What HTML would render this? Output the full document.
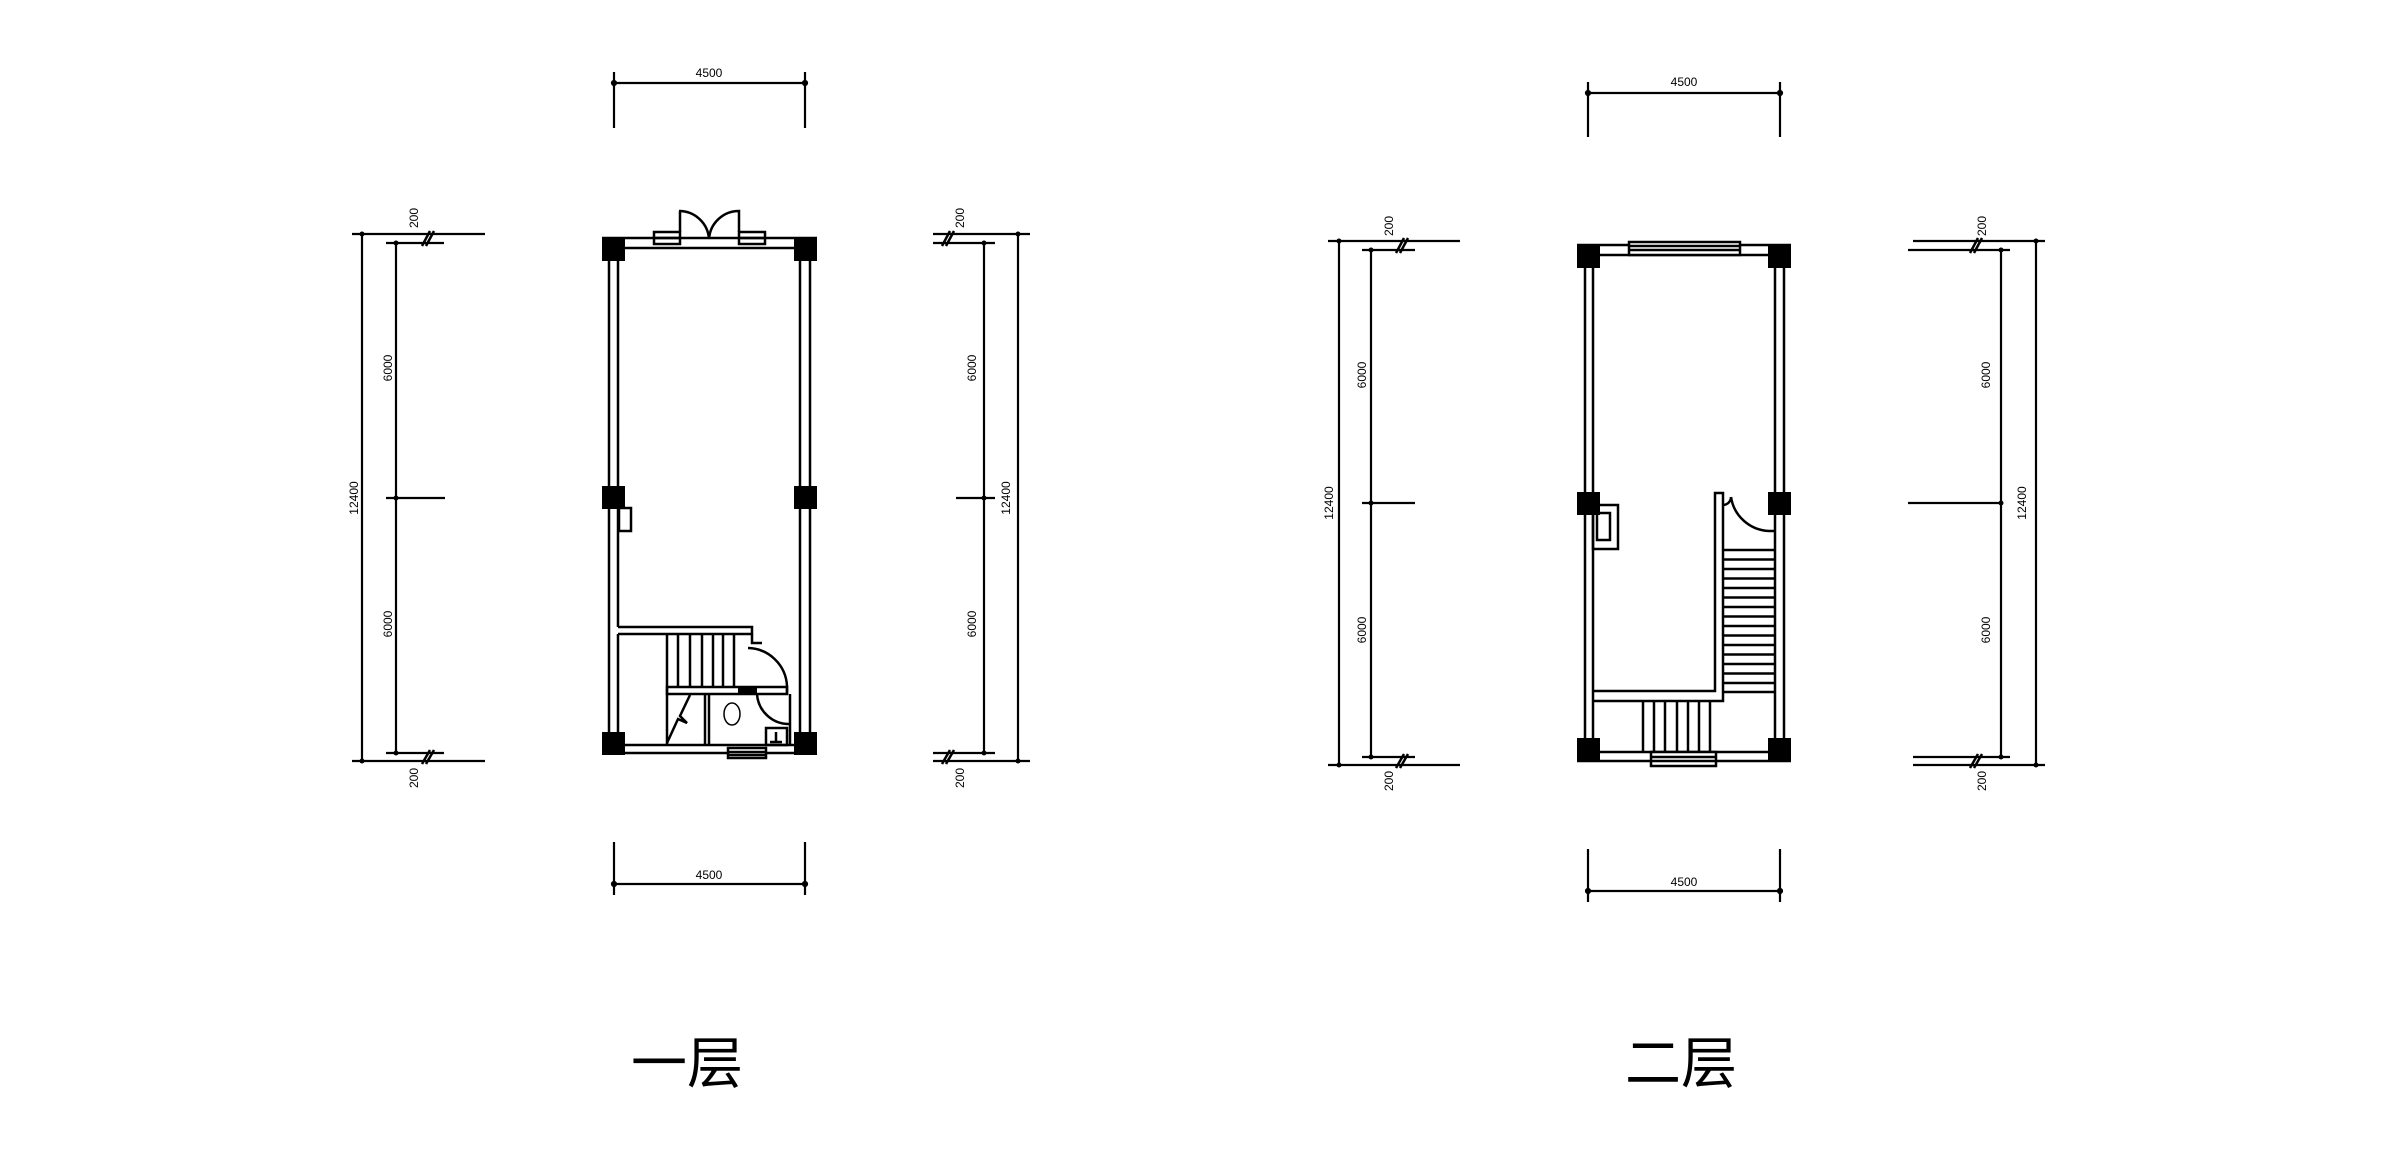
<!DOCTYPE html>
<html><head><meta charset="utf-8"><style>
html,body{margin:0;padding:0;background:#fff;}
svg{display:block;}
text{font-family:"Liberation Sans","Noto Sans CJK SC",sans-serif;fill:#000;}
.t{font-size:12px;}
</style></head><body>
<svg width="2390" height="1153" viewBox="0 0 2390 1153" xmlns="http://www.w3.org/2000/svg" fill="none" stroke="#000" stroke-width="2.2">
<!-- ============ FLOOR 1 ============ -->
<line x1="614" y1="83" x2="805" y2="83"/>
<line x1="614" y1="72" x2="614" y2="128"/><line x1="805" y1="72" x2="805" y2="128"/>
<circle cx="614" cy="83" r="2" fill="#000"/><circle cx="805" cy="83" r="2" fill="#000"/>
<text x="709" y="77" class="t" text-anchor="middle" stroke="none">4500</text>
<line x1="614" y1="884" x2="805" y2="884"/>
<line x1="614" y1="842" x2="614" y2="895"/><line x1="805" y1="842" x2="805" y2="895"/>
<circle cx="614" cy="884" r="2" fill="#000"/><circle cx="805" cy="884" r="2" fill="#000"/>
<text x="709" y="879" class="t" text-anchor="middle" stroke="none">4500</text>
<line x1="362" y1="234" x2="362" y2="761"/>
<line x1="396" y1="243" x2="396" y2="753"/>
<line x1="352" y1="234" x2="485" y2="234"/>
<line x1="386" y1="243" x2="444" y2="243"/>
<line x1="386" y1="498" x2="445" y2="498"/>
<line x1="386" y1="753" x2="444" y2="753"/>
<line x1="352" y1="761" x2="485" y2="761"/>
<g stroke-width="2.5"><line x1="422" y1="246" x2="430" y2="231"/><line x1="426" y1="246" x2="434" y2="231"/>
<line x1="422" y1="764" x2="430" y2="750"/><line x1="426" y1="764" x2="434" y2="750"/></g>
<g fill="#000" stroke="none"><circle cx="362" cy="234" r="2.5"/><circle cx="396" cy="243" r="2.5"/><circle cx="396" cy="498" r="2.5"/><circle cx="396" cy="753" r="2.5"/><circle cx="362" cy="761" r="2.5"/></g>
<g stroke="none" class="t">
<text transform="translate(418,218) rotate(-90)" text-anchor="middle">200</text>
<text transform="translate(392,368) rotate(-90)" text-anchor="middle">6000</text>
<text transform="translate(358,498) rotate(-90)" text-anchor="middle">12400</text>
<text transform="translate(392,624) rotate(-90)" text-anchor="middle">6000</text>
<text transform="translate(418,778) rotate(-90)" text-anchor="middle">200</text>
</g>
<line x1="1018" y1="234" x2="1018" y2="761"/>
<line x1="984" y1="243" x2="984" y2="753"/>
<line x1="933" y1="234" x2="1030" y2="234"/>
<line x1="933" y1="243" x2="995" y2="243"/>
<line x1="956" y1="498" x2="995" y2="498"/>
<line x1="933" y1="753" x2="995" y2="753"/>
<line x1="933" y1="761" x2="1030" y2="761"/>
<g stroke-width="2.5"><line x1="942" y1="246" x2="950" y2="231"/><line x1="946" y1="246" x2="954" y2="231"/>
<line x1="942" y1="764" x2="950" y2="750"/><line x1="946" y1="764" x2="954" y2="750"/></g>
<g fill="#000" stroke="none"><circle cx="1018" cy="234" r="2.5"/><circle cx="984" cy="243" r="2.5"/><circle cx="984" cy="498" r="2.5"/><circle cx="984" cy="753" r="2.5"/><circle cx="1018" cy="761" r="2.5"/></g>
<g stroke="none" class="t">
<text transform="translate(964,218) rotate(-90)" text-anchor="middle">200</text>
<text transform="translate(976,368) rotate(-90)" text-anchor="middle">6000</text>
<text transform="translate(1010,498) rotate(-90)" text-anchor="middle">12400</text>
<text transform="translate(976,624) rotate(-90)" text-anchor="middle">6000</text>
<text transform="translate(964,778) rotate(-90)" text-anchor="middle">200</text>
</g>
<g stroke-width="2.5">
<line x1="602" y1="238" x2="817" y2="238"/><line x1="618" y1="248" x2="800" y2="248"/>
<line x1="609" y1="248" x2="609" y2="749"/><line x1="618" y1="248" x2="618" y2="627"/>
<line x1="800" y1="248" x2="800" y2="740"/><line x1="810" y1="248" x2="810" y2="749"/>
<line x1="618" y1="745" x2="800" y2="745"/><line x1="602" y1="753" x2="817" y2="753"/>
<rect x="654" y="232" width="26" height="12"/><line x1="654" y1="238" x2="680" y2="238"/>
<rect x="739" y="232" width="26" height="12"/><line x1="739" y1="238" x2="765" y2="238"/>
<path d="M680 232 V211 H679 A30 30 0 0 1 709 239"/>
<path d="M739 232 V211 A30 30 0 0 0 709 239"/>
<rect x="619" y="508" width="12" height="23"/>
<path d="M618 627 H752 V634 H618"/>
<path d="M752 634 V643 H762"/>
<line x1="618" y1="634" x2="618" y2="745"/>
<line x1="667" y1="634" x2="667" y2="745"/>
<line x1="678" y1="634" x2="678" y2="687"/><line x1="690" y1="634" x2="690" y2="687"/><line x1="702" y1="634" x2="702" y2="687"/><line x1="713" y1="634" x2="713" y2="687"/><line x1="723" y1="634" x2="723" y2="687"/><line x1="734" y1="634" x2="734" y2="687"/>
<rect x="667" y="687" width="120" height="7"/>
<path d="M748 648 A40 40 0 0 1 787 686"/>
<line x1="787" y1="686" x2="787" y2="694"/>
<line x1="705" y1="694" x2="705" y2="745"/><line x1="709" y1="694" x2="709" y2="745"/>
<line x1="790" y1="694" x2="790" y2="745"/>
<path d="M757 694 A32 32 0 0 0 790 724"/>
<path d="M690 695 L680 716 L687 723 L678 719 L667 743"/>
<rect x="766" y="728" width="21" height="17"/>
<line x1="776" y1="732" x2="776" y2="742"/><line x1="770" y1="742" x2="782" y2="742"/>
<rect x="728" y="748" width="38" height="10" fill="#fff"/><line x1="728" y1="752" x2="766" y2="752"/><line x1="728" y1="755" x2="766" y2="755"/>
</g>
<rect x="738" y="687" width="19" height="7" fill="#000" stroke="none"/>
<ellipse cx="732" cy="714" rx="8" ry="11" stroke-width="1.5"/>
<g fill="#000" stroke="none">
<rect x="602" y="238" width="23" height="23"/><rect x="794" y="238" width="23" height="23"/>
<rect x="602" y="486" width="23" height="23"/><rect x="794" y="486" width="23" height="23"/>
<rect x="602" y="732" width="23" height="23"/><rect x="794" y="732" width="23" height="23"/>
</g>

<!-- ============ FLOOR 2 ============ -->
<line x1="1588" y1="93" x2="1780" y2="93"/>
<line x1="1588" y1="82" x2="1588" y2="137"/><line x1="1780" y1="82" x2="1780" y2="137"/>
<circle cx="1588" cy="93" r="2" fill="#000"/><circle cx="1780" cy="93" r="2" fill="#000"/>
<text x="1684" y="86" class="t" text-anchor="middle" stroke="none">4500</text>
<line x1="1588" y1="891" x2="1780" y2="891"/>
<line x1="1588" y1="849" x2="1588" y2="902"/><line x1="1780" y1="849" x2="1780" y2="902"/>
<circle cx="1588" cy="891" r="2" fill="#000"/><circle cx="1780" cy="891" r="2" fill="#000"/>
<text x="1684" y="886" class="t" text-anchor="middle" stroke="none">4500</text>
<line x1="1339" y1="241" x2="1339" y2="765"/>
<line x1="1371" y1="250" x2="1371" y2="757"/>
<line x1="1328" y1="241" x2="1460" y2="241"/>
<line x1="1362" y1="250" x2="1415" y2="250"/>
<line x1="1362" y1="503" x2="1415" y2="503"/>
<line x1="1362" y1="757" x2="1415" y2="757"/>
<line x1="1328" y1="765" x2="1460" y2="765"/>
<g stroke-width="2.5"><line x1="1396" y1="253" x2="1404" y2="238"/><line x1="1400" y1="253" x2="1408" y2="238"/>
<line x1="1396" y1="768" x2="1404" y2="754"/><line x1="1400" y1="768" x2="1408" y2="754"/></g>
<g fill="#000" stroke="none"><circle cx="1339" cy="241" r="2.5"/><circle cx="1371" cy="250" r="2.5"/><circle cx="1371" cy="503" r="2.5"/><circle cx="1371" cy="757" r="2.5"/><circle cx="1339" cy="765" r="2.5"/></g>
<g stroke="none" class="t">
<text transform="translate(1393,226) rotate(-90)" text-anchor="middle">200</text>
<text transform="translate(1366,375) rotate(-90)" text-anchor="middle">6000</text>
<text transform="translate(1333,503) rotate(-90)" text-anchor="middle">12400</text>
<text transform="translate(1366,630) rotate(-90)" text-anchor="middle">6000</text>
<text transform="translate(1393,781) rotate(-90)" text-anchor="middle">200</text>
</g>
<line x1="2036" y1="241" x2="2036" y2="765"/>
<line x1="2001" y1="250" x2="2001" y2="757"/>
<line x1="1913" y1="241" x2="2045" y2="241"/>
<line x1="1908" y1="250" x2="2010" y2="250"/>
<line x1="1908" y1="503" x2="2001" y2="503"/>
<line x1="1913" y1="757" x2="2010" y2="757"/>
<line x1="1913" y1="765" x2="2045" y2="765"/>
<g stroke-width="2.5"><line x1="1970" y1="253" x2="1978" y2="238"/><line x1="1974" y1="253" x2="1982" y2="238"/>
<line x1="1970" y1="768" x2="1978" y2="754"/><line x1="1974" y1="768" x2="1982" y2="754"/></g>
<g fill="#000" stroke="none"><circle cx="2036" cy="241" r="2.5"/><circle cx="2001" cy="250" r="2.5"/><circle cx="2001" cy="503" r="2.5"/><circle cx="2001" cy="757" r="2.5"/><circle cx="2036" cy="765" r="2.5"/></g>
<g stroke="none" class="t">
<text transform="translate(1986,226) rotate(-90)" text-anchor="middle">200</text>
<text transform="translate(1990,375) rotate(-90)" text-anchor="middle">6000</text>
<text transform="translate(2026,503) rotate(-90)" text-anchor="middle">12400</text>
<text transform="translate(1990,630) rotate(-90)" text-anchor="middle">6000</text>
<text transform="translate(1986,781) rotate(-90)" text-anchor="middle">200</text>
</g>
<g stroke-width="2.5">
<line x1="1577" y1="245" x2="1791" y2="245"/><line x1="1593" y1="255" x2="1775" y2="255"/>
<line x1="1585" y1="255" x2="1585" y2="752"/><line x1="1593" y1="255" x2="1593" y2="752"/>
<line x1="1775" y1="255" x2="1775" y2="752"/><line x1="1784" y1="255" x2="1784" y2="752"/>
<line x1="1593" y1="752" x2="1775" y2="752"/><line x1="1577" y1="761" x2="1791" y2="761"/>
<rect x="1629" y="242" width="111" height="13" fill="#fff"/><line x1="1629" y1="246" x2="1740" y2="246"/><line x1="1629" y1="250" x2="1740" y2="250"/>
<rect x="1593" y="505" width="25" height="44"/><rect x="1597" y="513" width="13" height="27"/>
<path d="M1593 691 H1715 V493 H1723 V701 H1593"/>
<line x1="1723" y1="550" x2="1775" y2="550"/>
<line x1="1723" y1="559.5" x2="1775" y2="559.5"/><line x1="1723" y1="569" x2="1775" y2="569"/><line x1="1723" y1="578.5" x2="1775" y2="578.5"/><line x1="1723" y1="588" x2="1775" y2="588"/><line x1="1723" y1="597.5" x2="1775" y2="597.5"/><line x1="1723" y1="607" x2="1775" y2="607"/><line x1="1723" y1="616.5" x2="1775" y2="616.5"/><line x1="1723" y1="626" x2="1775" y2="626"/><line x1="1723" y1="635.5" x2="1775" y2="635.5"/><line x1="1723" y1="645" x2="1775" y2="645"/><line x1="1723" y1="654.5" x2="1775" y2="654.5"/><line x1="1723" y1="664" x2="1775" y2="664"/><line x1="1723" y1="673.5" x2="1775" y2="673.5"/><line x1="1723" y1="683" x2="1775" y2="683"/><line x1="1723" y1="692" x2="1775" y2="692"/>
<line x1="1643" y1="701" x2="1643" y2="752"/><line x1="1654" y1="701" x2="1654" y2="752"/><line x1="1665" y1="701" x2="1665" y2="752"/><line x1="1677" y1="701" x2="1677" y2="752"/><line x1="1688" y1="701" x2="1688" y2="752"/><line x1="1699" y1="701" x2="1699" y2="752"/><line x1="1710" y1="701" x2="1710" y2="752"/>
<path d="M1723 505 A8 8 0 0 0 1731 497"/>
<path d="M1731 497 A40 40 0 0 0 1769 531"/>
<line x1="1769" y1="531" x2="1775" y2="531"/>
<rect x="1651" y="752" width="65" height="14" fill="#fff"/><line x1="1651" y1="757" x2="1716" y2="757"/><line x1="1651" y1="761" x2="1716" y2="761"/>
</g>
<g fill="#000" stroke="none">
<rect x="1577" y="245" width="23" height="23"/><rect x="1768" y="245" width="23" height="23"/>
<rect x="1577" y="492" width="23" height="23"/><rect x="1768" y="492" width="23" height="23"/>
<rect x="1577" y="738" width="23" height="23"/><rect x="1768" y="738" width="23" height="23"/>
</g>
<text x="687" y="1083" font-size="56" text-anchor="middle" stroke="none" font-family="Liberation Sans, Noto Sans CJK SC, sans-serif">一层</text>
<text x="1681" y="1083" font-size="56" text-anchor="middle" stroke="none" font-family="Liberation Sans, Noto Sans CJK SC, sans-serif">二层</text>
</svg>
</body></html>
